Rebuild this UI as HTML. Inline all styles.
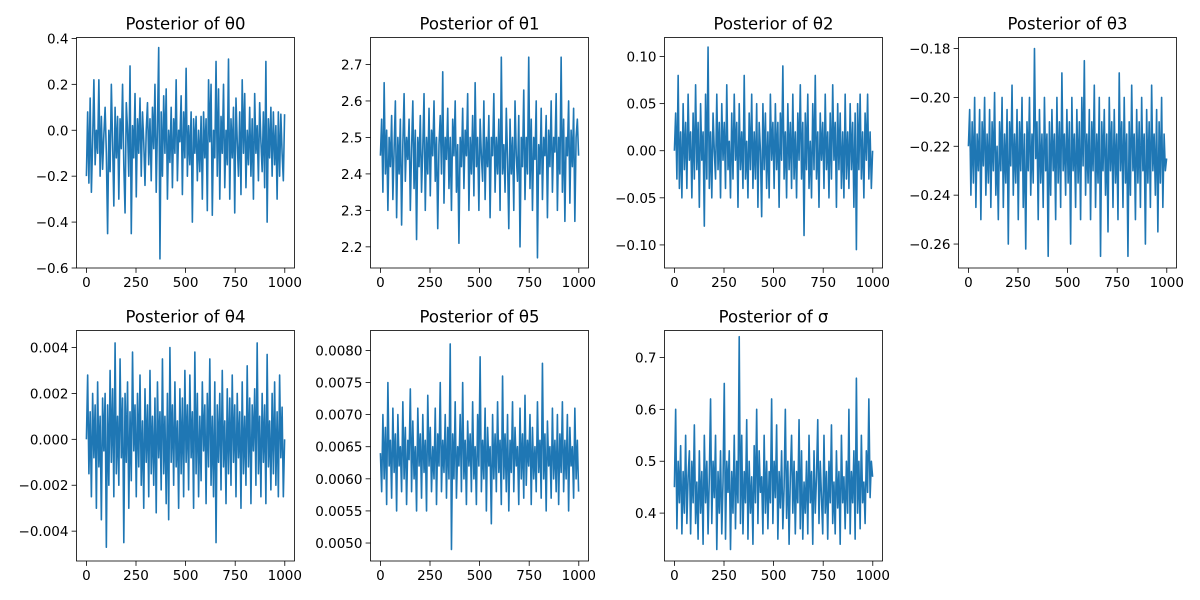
<!DOCTYPE html>
<html><head><meta charset="utf-8"><style>
body{margin:0;background:#fff;}
svg{display:block;font-family:"DejaVu Sans","Liberation Sans",sans-serif;}
</style></head><body>
<svg id="fig" width="1200" height="600" viewBox="0 0 1200 600"></svg>
<script>
const theta0 = [-0.2,0.08,-0.23,0.14,-0.27,-0.05,0.22,-0.15,0.0,-0.1,0.22,-0.2,0.06,-0.17,-0.02,0.1,-0.1,-0.45,0.0,-0.18,
0.2,-0.05,-0.33,0.1,-0.12,0.06,-0.3,0.05,-0.08,0.2,-0.15,-0.36,0.12,0.0,-0.2,0.28,-0.45,0.02,-0.12,0.16,
-0.29,0.05,-0.1,0.14,-0.2,0.08,-0.05,-0.24,0.0,0.12,-0.15,0.05,-0.22,0.1,-0.08,0.2,-0.27,0.02,0.36,-0.56,
0.08,-0.2,0.15,-0.1,0.18,-0.3,0.0,-0.14,0.1,-0.25,0.05,-0.1,0.22,-0.22,0.0,-0.05,0.15,-0.28,0.08,-0.12,
0.27,-0.2,0.02,-0.15,0.08,-0.4,0.05,-0.1,0.06,-0.22,0.0,-0.18,0.06,-0.3,0.08,-0.12,0.05,-0.35,0.22,-0.05,
0.2,-0.37,0.0,-0.12,0.3,-0.2,0.18,-0.3,0.06,-0.1,0.2,-0.25,0.0,-0.15,0.31,-0.3,0.05,-0.12,0.1,-0.36,
0.14,-0.05,-0.2,0.08,-0.28,0.22,-0.1,0.16,-0.25,0.0,-0.15,0.1,-0.2,0.05,-0.3,0.16,-0.1,0.02,-0.22,0.12,
-0.05,-0.18,0.08,-0.25,0.3,-0.4,0.05,-0.12,0.1,-0.2,0.08,-0.15,0.02,-0.3,0.08,-0.2,0.07,-0.1,-0.22,0.07];
const theta1 = [2.45,2.55,2.35,2.65,2.4,2.52,2.3,2.5,2.42,2.56,2.33,2.47,2.6,2.28,2.5,2.4,2.55,2.26,2.48,2.62,
2.38,2.5,2.44,2.55,2.3,2.47,2.6,2.36,2.52,2.22,2.5,2.42,2.56,2.35,2.47,2.62,2.3,2.5,2.4,2.58,
2.34,2.52,2.45,2.6,2.38,2.5,2.25,2.48,2.56,2.4,2.68,2.32,2.5,2.44,2.58,2.36,2.5,2.3,2.55,2.45,
2.6,2.35,2.48,2.21,2.5,2.42,2.58,2.36,2.52,2.45,2.62,2.3,2.5,2.4,2.56,2.34,2.65,2.42,2.5,2.3,
2.55,2.45,2.38,2.6,2.33,2.5,2.42,2.56,2.28,2.5,2.45,2.62,2.35,2.5,2.4,2.55,2.3,2.72,2.4,2.48,
2.35,2.58,2.44,2.25,2.55,2.4,2.5,2.3,2.6,2.45,2.38,2.56,2.2,2.5,2.42,2.63,2.33,2.5,2.4,2.72,
2.36,2.55,2.3,2.5,2.44,2.6,2.17,2.48,2.4,2.58,2.33,2.5,2.45,2.56,2.28,2.52,2.42,2.6,2.35,2.5,
2.46,2.62,2.3,2.5,2.4,2.72,2.35,2.55,2.27,2.5,2.45,2.6,2.32,2.52,2.42,2.58,2.27,2.5,2.55,2.45];
const theta2 = [0.0,0.04,-0.03,0.08,-0.04,0.02,-0.05,0.05,-0.02,0.03,-0.04,0.06,-0.01,0.02,-0.05,0.04,-0.03,0.07,-0.02,0.03,
-0.06,0.05,-0.01,0.02,-0.08,0.06,-0.03,0.11,-0.04,0.02,-0.05,0.04,0.0,-0.03,0.06,-0.02,0.03,-0.05,0.05,-0.01,
0.03,-0.04,0.07,-0.02,0.01,-0.05,0.04,-0.03,0.06,-0.01,0.03,-0.06,0.05,-0.02,0.02,-0.04,0.08,-0.03,0.01,-0.05,
0.04,-0.02,0.06,-0.04,0.02,-0.03,0.05,-0.06,0.03,0.0,-0.07,0.05,-0.02,0.04,-0.04,0.02,-0.05,0.06,-0.01,0.03,
-0.04,0.05,-0.02,0.03,-0.06,0.04,-0.01,0.09,-0.03,0.02,-0.05,0.05,-0.02,0.03,-0.04,0.06,-0.03,0.02,-0.05,0.04,
-0.01,0.07,-0.03,0.03,-0.09,0.04,-0.02,0.06,-0.04,0.01,-0.05,0.05,-0.02,0.08,-0.03,0.02,-0.06,0.04,-0.01,0.03,
-0.04,0.06,-0.02,0.02,-0.05,0.04,-0.03,0.07,-0.01,0.03,-0.06,0.05,-0.02,0.04,-0.04,0.02,-0.05,0.06,-0.03,0.02,
-0.04,0.05,-0.02,0.03,-0.06,0.04,-0.105,0.05,-0.02,0.06,-0.03,0.02,-0.05,0.04,-0.01,0.06,-0.03,0.02,-0.04,0.0];
const theta3 = [-0.22,-0.205,-0.24,-0.21,-0.235,-0.2,-0.245,-0.215,-0.23,-0.205,-0.25,-0.21,-0.228,-0.2,-0.24,-0.215,-0.235,-0.205,-0.245,-0.21,
-0.23,-0.198,-0.24,-0.22,-0.25,-0.21,-0.23,-0.2,-0.245,-0.215,-0.235,-0.205,-0.26,-0.21,-0.228,-0.195,-0.24,-0.215,-0.235,-0.205,
-0.25,-0.21,-0.23,-0.2,-0.245,-0.215,-0.262,-0.21,-0.23,-0.2,-0.24,-0.215,-0.235,-0.18,-0.225,-0.21,-0.25,-0.205,-0.235,-0.215,
-0.245,-0.2,-0.23,-0.215,-0.265,-0.21,-0.24,-0.205,-0.23,-0.215,-0.25,-0.2,-0.235,-0.21,-0.245,-0.19,-0.23,-0.215,-0.24,-0.205,
-0.235,-0.21,-0.26,-0.2,-0.23,-0.215,-0.245,-0.205,-0.235,-0.21,-0.25,-0.2,-0.228,-0.185,-0.24,-0.215,-0.235,-0.205,-0.25,-0.21,
-0.23,-0.195,-0.245,-0.215,-0.235,-0.2,-0.265,-0.21,-0.23,-0.205,-0.24,-0.215,-0.255,-0.2,-0.23,-0.21,-0.245,-0.205,-0.235,-0.215,
-0.25,-0.19,-0.23,-0.21,-0.245,-0.2,-0.235,-0.215,-0.265,-0.21,-0.24,-0.195,-0.23,-0.215,-0.25,-0.205,-0.235,-0.21,-0.245,-0.2,
-0.23,-0.215,-0.26,-0.205,-0.235,-0.21,-0.245,-0.195,-0.23,-0.215,-0.24,-0.205,-0.255,-0.21,-0.235,-0.2,-0.245,-0.215,-0.23,-0.225];
const theta4 = [0.0,0.0028,-0.0015,0.0012,-0.0025,0.002,-0.0008,0.0015,-0.003,0.0025,-0.0012,0.001,-0.0035,0.0018,-0.0005,0.002,-0.0047,0.0015,-0.002,0.003,
-0.001,0.0022,-0.0025,0.0042,-0.0015,0.001,-0.002,0.0035,-0.0008,0.0018,-0.0045,0.002,-0.001,0.0025,-0.003,0.0012,-0.0018,0.0038,-0.0005,0.0015,
-0.0025,0.002,-0.0012,0.0028,-0.002,0.0008,-0.003,0.0022,-0.001,0.0015,-0.0025,0.003,-0.0015,0.001,-0.002,0.0018,-0.0032,0.0025,-0.0008,0.0012,
-0.0022,0.0035,-0.0015,0.001,-0.0028,0.002,-0.0035,0.004,-0.001,0.0015,-0.002,0.0025,-0.0012,0.0008,-0.003,0.0022,-0.0015,0.0018,-0.0025,0.003,
-0.001,0.0015,-0.0022,0.0028,-0.0008,0.0012,-0.003,0.0038,-0.0015,0.002,-0.0025,0.001,-0.0018,0.0025,-0.0005,0.0015,-0.0028,0.002,-0.0012,0.0035,
-0.002,0.001,-0.0025,0.0025,-0.0045,0.0015,-0.001,0.002,-0.0022,0.003,-0.0012,0.0008,-0.0028,0.0022,-0.0015,0.0018,-0.002,0.0028,-0.001,0.0015,
-0.0025,0.002,-0.0008,0.0012,-0.003,0.0025,-0.0015,0.001,-0.002,0.0032,-0.0012,0.0018,-0.0028,0.0015,-0.0005,0.0022,-0.002,0.0042,-0.0015,0.001,
-0.0025,0.002,-0.001,0.0015,-0.0028,0.0037,-0.0012,0.0008,-0.0022,0.002,-0.0015,0.0025,-0.002,0.0012,-0.0025,0.0028,-0.0008,0.0014,-0.0025,0.0];
const theta5 = [0.0064,0.0058,0.007,0.006,0.0068,0.0056,0.0075,0.0062,0.0066,0.0057,0.0071,0.0061,0.0067,0.0055,0.007,0.0062,0.0065,0.0058,0.0072,0.006,
0.0068,0.0056,0.0066,0.0063,0.0074,0.0058,0.0069,0.006,0.0065,0.0055,0.0071,0.0062,0.0067,0.0057,0.007,0.0061,0.0066,0.0055,0.0073,0.0062,
0.0068,0.0058,0.0065,0.006,0.0071,0.0056,0.0067,0.0062,0.0075,0.0058,0.0066,0.0061,0.007,0.0057,0.0068,0.006,0.0081,0.0049,0.0067,0.006,
0.0072,0.0057,0.0065,0.0062,0.007,0.0058,0.0075,0.006,0.0066,0.0056,0.0069,0.0062,0.0067,0.0058,0.0072,0.006,0.0065,0.0056,0.007,0.0062,
0.0079,0.0058,0.0066,0.006,0.0071,0.0055,0.0068,0.0062,0.0065,0.0053,0.007,0.006,0.0067,0.0058,0.0072,0.0061,0.0066,0.0056,0.0076,0.006,
0.0067,0.0058,0.007,0.0055,0.0066,0.0061,0.0072,0.0058,0.0068,0.0062,0.0065,0.0056,0.0071,0.006,0.0067,0.0057,0.0073,0.0059,0.0066,0.0062,
0.007,0.0056,0.0068,0.006,0.0065,0.0058,0.0072,0.0061,0.0066,0.0057,0.0078,0.006,0.0067,0.0055,0.0069,0.0062,0.0065,0.0057,0.0071,0.006,
0.0066,0.0058,0.007,0.0056,0.0067,0.0061,0.0072,0.0058,0.0066,0.006,0.007,0.0055,0.0068,0.0062,0.0065,0.0057,0.0071,0.006,0.0066,0.0058];
const sigma = [0.45,0.6,0.37,0.5,0.42,0.53,0.36,0.48,0.4,0.55,0.38,0.47,0.52,0.36,0.5,0.42,0.57,0.38,0.46,0.35,
0.52,0.4,0.48,0.34,0.55,0.42,0.5,0.36,0.47,0.62,0.38,0.5,0.43,0.55,0.33,0.48,0.4,0.52,0.36,0.46,
0.65,0.35,0.5,0.44,0.52,0.33,0.48,0.4,0.55,0.37,0.5,0.42,0.74,0.38,0.55,0.36,0.48,0.42,0.58,0.35,
0.5,0.4,0.47,0.34,0.53,0.42,0.6,0.38,0.52,0.44,0.47,0.36,0.55,0.4,0.5,0.37,0.48,0.42,0.62,0.38,
0.5,0.43,0.57,0.35,0.48,0.41,0.52,0.37,0.45,0.6,0.39,0.5,0.34,0.47,0.55,0.4,0.5,0.36,0.48,0.42,
0.58,0.37,0.52,0.35,0.46,0.4,0.5,0.36,0.55,0.42,0.48,0.34,0.52,0.4,0.47,0.58,0.38,0.5,0.43,0.36,
0.55,0.4,0.48,0.35,0.5,0.42,0.57,0.38,0.46,0.36,0.52,0.41,0.48,0.34,0.55,0.42,0.47,0.37,0.5,0.4,
0.6,0.36,0.48,0.42,0.52,0.35,0.66,0.4,0.5,0.37,0.55,0.42,0.46,0.38,0.52,0.44,0.62,0.43,0.5,0.47];
const titles = ["Posterior of θ0","Posterior of θ1","Posterior of θ2","Posterior of θ3","Posterior of θ4","Posterior of θ5","Posterior of σ"];
const xTicks = [0,250,500,750,1000];
const yTicks0 = [-0.6,-0.4,-0.2,0.0,0.2,0.4];
const yTicks1 = [2.2,2.3,2.4,2.5,2.6,2.7];
const yTicks2 = [-0.10,-0.05,0.00,0.05,0.10];
const yTicks3 = [-0.26,-0.24,-0.22,-0.20,-0.18];
const yTicks4 = [-0.004,-0.002,0.000,0.002,0.004];
const yTicks5 = [0.0050,0.0055,0.0060,0.0065,0.0070,0.0075,0.0080];
const yTicks6 = [0.4,0.5,0.6,0.7];
const yDec = [1,1,2,2,3,4,1];

const svg = document.getElementById('fig');
const NS = 'http://www.w3.org/2000/svg';
function mk(tag, attrs, parent){
  const e = document.createElementNS(NS, tag);
  for (const k in attrs) e.setAttribute(k, attrs[k]);
  parent.appendChild(e); return e;
}
const series = [theta0,theta1,theta2,theta3,theta4,theta5,sigma];
const yTicksAll = [yTicks0,yTicks1,yTicks2,yTicks3,yTicks4,yTicks5,yTicks6];
const yDomains = [[-0.6,0.404],[2.142,2.774],[-0.1245,0.1202],[-0.2698,-0.1755],[-0.0053,0.00474],[0.00472,0.00831],[0.3077,0.752]];
const lefts = [76.5,370.5,664.5,958.5];
const tops = [37.5,330.5];
const W = 218, H = 230.5;
series.forEach((data, idx) => {
  const col = idx % 4, row = Math.floor(idx / 4);
  const L = lefts[col], T = tops[row];
  const g = mk('g', {}, svg);
  
  
  const [y0, y1] = yDomains[idx];
  const xs = v => L + (v + 49.95) / 1098.9 * W;
  const ys = v => T + H - (v - y0) / (y1 - y0) * H;
  const n = data.length;
  let d = '';
  data.forEach((v, i) => { const it = i * 999 / (n - 1); d += (i ? 'L' : 'M') + xs(it).toFixed(2) + ' ' + ys(v).toFixed(2); });
  const line = mk('path', {d: d, fill: 'none', stroke: '#1f77b4', 'stroke-width': 1.6, 'stroke-linejoin': 'round'}, g);
  
  
  const frame = mk('rect', {x: L, y: T, width: W, height: H, fill: 'none', stroke: '#000', 'stroke-width': 0.8}, g);
  
  
  xTicks.forEach(t => {
    const x = xs(t);
    mk('line', {x1: x, x2: x, y1: T + H, y2: T + H + 4.9, stroke: '#000', 'stroke-width': 0.8}, g);
    const tx = mk('text', {x: x, y: T + H + 19, 'text-anchor': 'middle', 'font-size': 13.5}, g);
    
    
    tx.textContent = t;
  });
  yTicksAll[idx].forEach(t => {
    const y = ys(t);
    mk('line', {x1: L - 4.9, x2: L, y1: y, y2: y, stroke: '#000', 'stroke-width': 0.8}, g);
    const ty = mk('text', {x: L - 8, y: y + 5, 'text-anchor': 'end', 'font-size': 13.5}, g);
    
    
    ty.textContent = t.toFixed(yDec[idx]).replace('-', '−');
  });
  const tt = mk('text', {x: L + W / 2, y: T - 8, 'text-anchor': 'middle', 'font-size': 16.5}, g);
  
  
  tt.textContent = titles[idx];
});
</script>
</body></html>
